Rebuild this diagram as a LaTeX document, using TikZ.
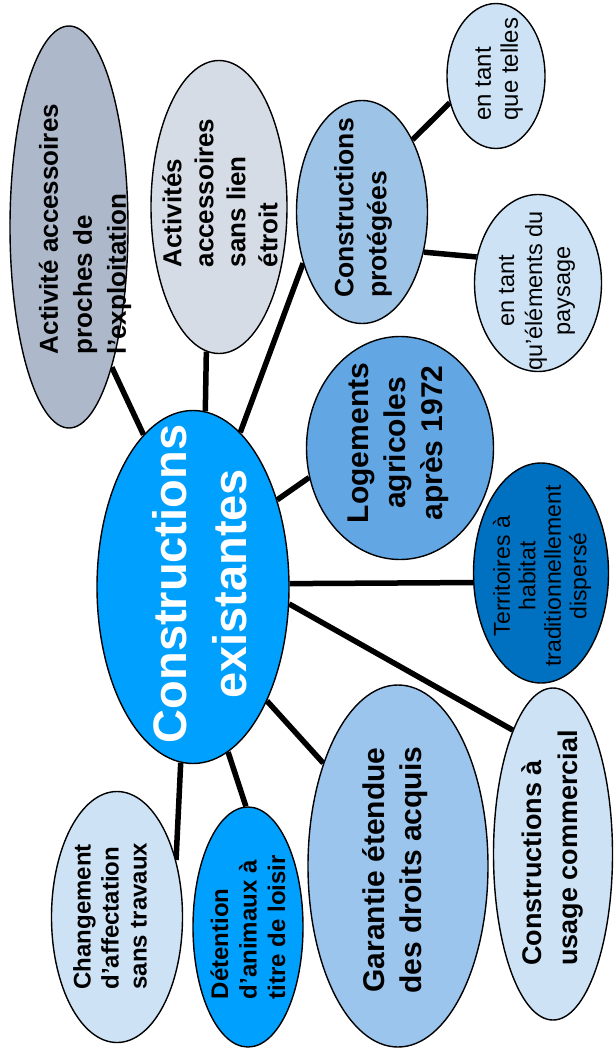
\documentclass[tikz,border=0pt]{standalone}
\usepackage{fontspec}
\setmainfont{Liberation Sans}
\usetikzlibrary{shapes.geometric,backgrounds}
\definecolor{cA}{HTML}{ADB9CA}
\definecolor{cB}{HTML}{D6DCE5}
\definecolor{cC}{HTML}{9DC3E6}
\definecolor{cL}{HTML}{CDE2F5}
\definecolor{cF}{HTML}{62A7E4}
\definecolor{cG}{HTML}{0070C0}
\definecolor{cCE}{HTML}{00A0FE}
\definecolor{cJ}{HTML}{9CC5EE}
\begin{document}
\begin{tikzpicture}[x=1pt,y=-1pt,
  ell/.style={shape=ellipse, draw=black, line width=1.4pt, inner sep=0pt},
  con/.style={line width=5.5pt, draw=black},
  lbl/.style={rotate=90, inner sep=0pt, text=black},
  bfs/.style n args={2}{font=\fontsize{#1}{#2}\selectfont\bfseries},
  rgs/.style n args={2}{font=\fontsize{#1}{#2}\selectfont}]
\useasboundingbox (0,0) rectangle (614,1051);
% ellipses
\node[ell, fill=cA, minimum width=118pt, minimum height=402pt] (a) at (69,227) {};
\node[ell, fill=cB, minimum width=136pt, minimum height=293pt] (b) at (219,207) {};
\node[ell, fill=cC, minimum width=131pt, minimum height=223pt] (c) at (362,212) {};
\node[ell, fill=cL, minimum width=98pt, minimum height=145pt] (d) at (496,76) {};
\node[ell, fill=cL, minimum width=127pt, minimum height=177pt] (e) at (538,283) {};
\node[ell, fill=cF, minimum width=187pt, minimum height=223pt] (f) at (400,448) {};
\node[ell, fill=cG, minimum width=135pt, minimum height=220pt] (g) at (541,573) {};
\node[ell, fill=cCE, minimum width=192pt, minimum height=353pt] (ce) at (193,587) {};
\node[ell, fill=cL, minimum width=131pt, minimum height=251pt] (h) at (117,917) {};
\node[ell, fill=cCE, minimum width=110pt, minimum height=240pt] (i) at (248,927) {};
\node[ell, fill=cJ, minimum width=180pt, minimum height=362pt] (j) at (398,866) {};
\node[ell, fill=cL, minimum width=119pt, minimum height=332pt] (k) at (553,854) {};
% texts
\node[lbl, bfs={26}{34}, align=left] (ta) at (85,229) {Activité accessoires\\proches de\\l’exploitation};
\node[lbl, bfs={26}{32}, align=left] (tb) at (220,193) {Activités\\accessoires\\sans lien\\étroit};
\node[lbl, bfs={26.5}{33}, align=left] (tc) at (363,208) {Constructions\\protégées};
\node[lbl, rgs={24}{27}, align=left] (td) at (499,69) {en tant\\que telles};
\node[lbl, rgs={23.5}{28}, align=center] (te) at (537,291) {en tant\\qu’éléments du\\paysage};
\node[lbl, bfs={30}{37}, align=center] (tf) at (398,443) {Logements\\agricoles\\après 1972};
\node[lbl, rgs={23}{25.5}, align=center] (tg) at (542,576) {Territoires à\\habitat\\traditionnellement\\dispersé};
\node[lbl, bfs={47}{60}, align=center, text=white] (tce) at (200,584) {Constructions\\existantes};
\node[lbl, bfs={24}{28}, align=left] (th) at (110,916) {Changement\\d’affectation\\sans travaux};
\node[lbl, bfs={24}{28.5}, align=left] (ti) at (248,927) {Détention\\d’animaux à\\titre de loisir};
\node[lbl, bfs={30}{37}, align=center] (tj) at (395,870) {Garantie étendue\\des droits acquis};
\node[lbl, bfs={27}{36}, align=left] (tk) at (552,848) {Constructions à\\usage commercial};
% connectors
\begin{scope}[on background layer]
\draw[con] (ce.108.3) -- (a.-73.5);
\draw[con] (ce.86.1) -- (b.-95.4);
\draw[con] (ce.73.5) -- (c.221.9);
\draw[con] (c.55.8) -- (d.210.6);
\draw[con] (c.-33) -- (e.157.7);
\draw[con] (ce.46) -- (f.198.4);
\draw[con] (ce.2.4) -- (g.188.4);
\draw[con] (ce.-10.1) -- (k.108);
\draw[con] (ce.-57.5) -- (j.126);
\draw[con] (ce.-78.4) -- (i.91.5);
\draw[con] (ce.266.4) -- (h.44);
\end{scope}
\end{tikzpicture}
\end{document}
